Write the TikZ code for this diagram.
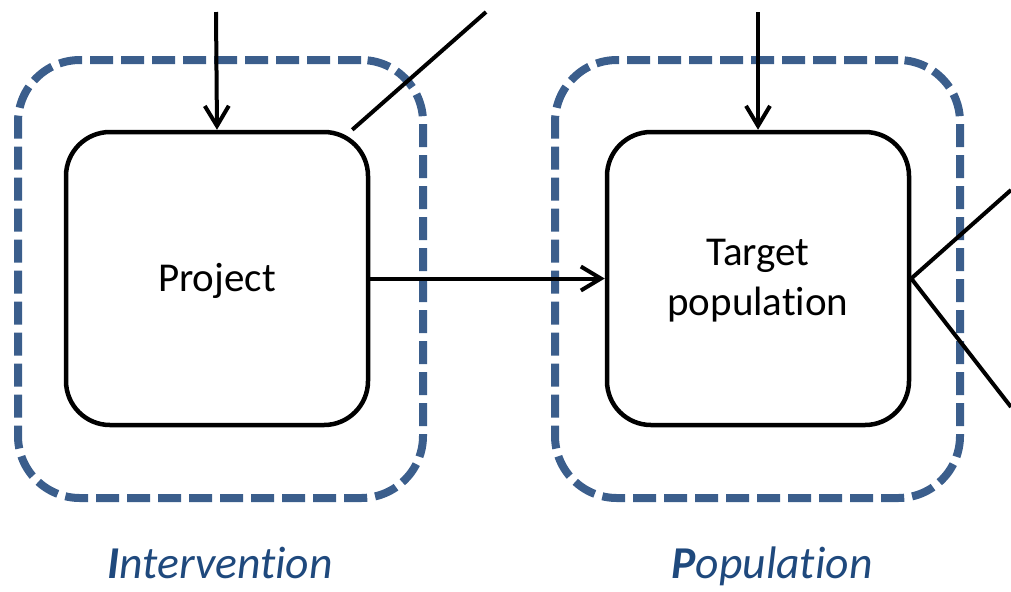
\documentclass[tikz,border=0pt]{standalone}
\usepackage{fontspec}
\setmainfont{Carlito}[Ligatures={NoCommon}]
\usetikzlibrary{arrows.meta}
\definecolor{frameblue}{RGB}{59,94,140}
\definecolor{labelblue}{RGB}{31,73,125}
\tikzstyle{block}=[draw, line width=2.25pt, rounded corners=22pt, minimum width=151pt, minimum height=146.5pt, align=center, text depth=1pt, font=\fontsize{20.5}{25}\selectfont]
\tikzstyle{frame}=[draw=frameblue, line width=4pt, dash pattern=on 11.5pt off 4pt, rounded corners=31pt, minimum width=202.5pt, minimum height=219pt]
\tikzstyle{caption}=[text=labelblue, font=\fontsize{22.8}{27}\selectfont\itshape, anchor=base]
\tikzstyle{link}=[line width=2pt]
\tikzstyle{arrow}=[link, -{Straight Barb[length=10pt, width=12pt]}]

\begin{document}
\begin{tikzpicture}[x=0.5pt, y=-0.5pt]
\useasboundingbox (0,0) rectangle (1011,591);
% Dashed frames
    \node[frame] (intframe) at (220.5,279) {};
    \node[frame] (popframe) at (757.5,279) {};
% Boxes
    \node[block] (project) at (217,278.5) {Project};
    \node[block] (target) at (758,278.5) {Target\\population};
% Captions
    \node[caption] (intlabel) at (220,578) {\textbf{I}ntervention};
    \node[caption] (poplabel) at (772,578) {\textbf{P}opulation};
% Loose ends at the border
    \coordinate (projin) at (216,12);
    \coordinate (targetin) at (758,12);
    \coordinate (projout) at (486,12);
    \coordinate (targetup) at (1011,190);
    \coordinate (targetdown) at (1011,407);
% Connectors
    \draw[arrow] (projin) -- (project.north);
    \draw[arrow] (targetin) -- (target.north);
    \draw[arrow] (project.east) -- (target.west);
    \draw[link] ([xshift=-9pt]project.north east) -- (projout);
    \draw[link] (target.east) -- (targetup);
    \draw[link] (target.east) -- (targetdown);
\end{tikzpicture}
\end{document}
